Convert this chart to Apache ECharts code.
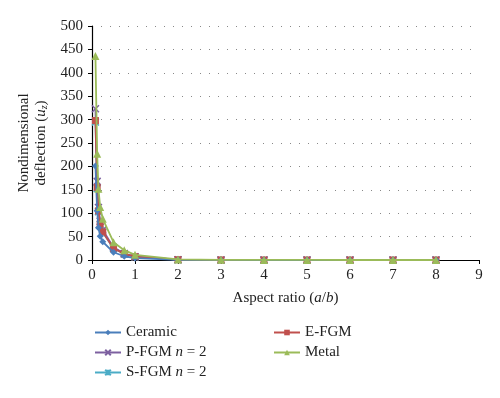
<!DOCTYPE html>
<html><head><meta charset="utf-8">
<script src="https://cdn.jsdelivr.net/npm/echarts@6/dist/echarts.min.js"></script>
<style>html,body{margin:0;padding:0;background:#fff}#c{width:500px;height:398px}</style>
</head><body><div id="c"></div>
<script>
var aspect = [0.08, 0.12, 0.15, 0.19, 0.25, 0.5, 0.75, 1, 2, 3, 4, 5, 6, 7, 8];
var ceramic = [201, 105, 69, 51, 39, 16.5, 8, 4, 0.4, 0.1, 0.05, 0.03, 0.02, 0.01, 0.01];
var pfgm    = [323, 168, 112, 83, 64, 27, 14, 7, 0.7, 0.2, 0.1, 0.05, 0.03, 0.02, 0.02];
var sfgm    = [295, 153, 103, 76, 59, 25, 13, 6.5, 0.6, 0.2, 0.1, 0.05, 0.03, 0.02, 0.02];
var efgm    = [298, 155, 105, 77, 60, 25, 13, 7, 0.7, 0.2, 0.1, 0.05, 0.03, 0.02, 0.02];
var metal   = [436, 227, 152, 113, 88, 38, 21, 11, 1.2, 0.3, 0.15, 0.08, 0.05, 0.03, 0.02];
var xTicks = [0, 1, 2, 3, 4, 5, 6, 7, 8, 9];
var yTicks = [0, 50, 100, 150, 200, 250, 300, 350, 400, 450, 500];
var seriesNames = ['Ceramic', 'P-FGM n = 2', 'S-FGM n = 2', 'E-FGM', 'Metal'];

var serif = 'Liberation Serif';
var txt = {color:'#222', fontFamily:serif, fontSize:15,
  rich:{i:{fontStyle:'italic', fontFamily:serif, fontSize:15, color:'#222'}}};
function pts(v){ return aspect.map(function(x,i){ return [x, v[i]]; }); }
function mk(name, data, color, symbol, size, z, bw){
  return {name:name, type:'line', data:pts(data), symbol:symbol, symbolSize:size,
    z:z, lineStyle:{color:color,width:1.8},
    itemStyle:{color:color, borderColor:color, borderWidth:bw||0}, color:color};
}
function lg(name, left, top){
  return {data:[name], orient:'vertical', left:left, top:top, itemWidth:26, itemHeight:7,
    padding:0, textStyle:txt,
    formatter:function(n){ return n.replace(' n = 2',' {i|n} = 2'); }};
}
var chart = echarts.init(document.getElementById('c'));
chart.setOption({
  animation:false,
  grid:{left:92, right:21, top:26, bottom:138},
  xAxis:{type:'value', min:0, max:9, interval:1,
    axisLine:{lineStyle:{color:'#000',width:1.2}},
    axisTick:{show:true, length:4, lineStyle:{color:'#000'}},
    splitLine:{show:false},
    axisLabel:{color:'#222', fontFamily:serif, fontSize:15, margin:8,
      formatter:function(v){ return xTicks.indexOf(v)>=0 ? String(v) : ''; }},
    name:'Aspect ratio ({i|a}/{i|b})', nameLocation:'middle', nameGap:31,
    nameTextStyle:txt
  },
  yAxis:{type:'value', min:0, max:500, interval:50,
    axisLine:{show:true, lineStyle:{color:'#000',width:1.2}},
    axisTick:{show:true, length:4, lineStyle:{color:'#000'}},
    splitLine:{show:true, lineStyle:{color:'#888', type:[1,8], width:1}},
    axisLabel:{color:'#222', fontFamily:serif, fontSize:15, margin:9,
      formatter:function(v){ return yTicks.indexOf(v)>=0 ? String(v) : ''; }},
    name:'Nondimensional\ndeflection ({i|u}{s|z})', nameLocation:'middle', nameGap:33, nameRotate:90,
    nameTextStyle:{color:'#222', fontFamily:serif, fontSize:15, lineHeight:17, align:'center',
      rich:{i:{fontStyle:'italic', fontFamily:serif, fontSize:15, color:'#222', lineHeight:17},
            s:{fontStyle:'italic', fontFamily:serif, fontSize:10, color:'#222', verticalAlign:'bottom', lineHeight:13}}}
  },
  legend:[
    lg(seriesNames[0], 94, 325),
    lg(seriesNames[1], 94, 345),
    lg(seriesNames[2], 94, 365),
    lg(seriesNames[3], 273, 325),
    lg(seriesNames[4], 273, 345)
  ],
  series:[
    mk(seriesNames[0], ceramic, '#4A7EBB', 'diamond', 7, 5),
    mk(seriesNames[1], pfgm, '#7D60A0', 'path://M0,0L10,10M10,0L0,10', 7, 3, 1.5),
    mk(seriesNames[2], sfgm, '#4BACC6', 'path://M0,0L10,10M10,0L0,10M5,0L5,10', 7, 2, 1.5),
    mk(seriesNames[3], efgm, '#C0504D', 'rect', 7, 4),
    mk(seriesNames[4], metal, '#9BBB59', 'triangle', 8, 6)
  ]
});
</script>
</body></html>
